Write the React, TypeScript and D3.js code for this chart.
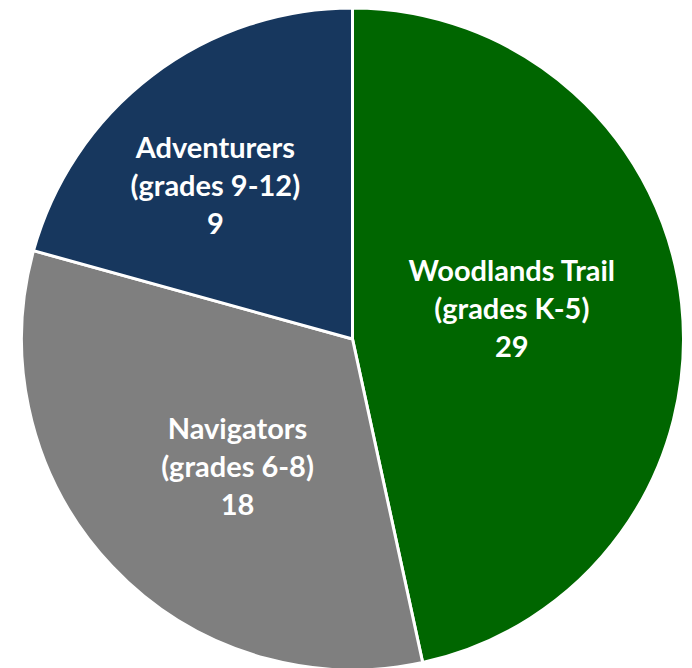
import React, { useEffect } from "react";
import * as d3 from "d3";

const categories = ["Woodlands Trail", "Navigators", "Adventurers"];
const gradeLabels = ["(grades K-5)", "(grades 6-8)", "(grades 9-12)"];
const countLabels = [29, 18, 9];
// slice shares as drawn in the picture (percent of the circle)
const sliceShares = [46.6, 32.7, 20.7];
const colors = ["#006600", "#7F7F7F", "#17375E"];
const labelRadiusFactor = [0.49, 0.52, 0.62];
const labelAngleShiftDeg = -4.7;

const W = 692;
const H = 668;
const R = 331;
const CX = 352.5;
const CY = 339;

export default function App() {
  useEffect(() => {
    document.body.style.margin = "0";
  }, []);

  const pie = d3
    .pie<number>()
    .sort(null)
    .value((d) => d)
    .startAngle(0)
    .endAngle(2 * Math.PI);
  const arcs = pie(sliceShares);
  const arcGen = d3.arc<d3.PieArcDatum<number>>().innerRadius(0).outerRadius(R);

  const lineH = 38;
  const shift = (labelAngleShiftDeg * Math.PI) / 180;

  return (
    <svg width={W} height={H} style={{ display: "block", background: "#fff" }}>
      <g transform={`translate(${CX},${CY})`}>
        {arcs.map((a, i) => (
          <path
            key={i}
            d={arcGen(a) || ""}
            fill={colors[i]}
            stroke="#fff"
            strokeWidth={3}
            strokeLinejoin="round"
          />
        ))}
        {arcs.map((a, i) => {
          const lr = R * labelRadiusFactor[i];
          const mid = (a.startAngle + a.endAngle) / 2 + shift;
          const c = d3
            .arc<any>()
            .innerRadius(lr)
            .outerRadius(lr)
            .centroid({ startAngle: mid, endAngle: mid } as any);
          const lines = [categories[i], gradeLabels[i], String(countLabels[i])];
          return (
            <text
              key={"t" + i}
              textAnchor="middle"
              fill="#fff"
              fontFamily="Lato, 'Open Sans', sans-serif"
              fontWeight="bold"
              fontSize={29}
            >
              {lines.map((l, j) => (
                <tspan key={j} x={c[0]} y={c[1] + (j - 1) * lineH + 10}>
                  {l}
                </tspan>
              ))}
            </text>
          );
        })}
      </g>
    </svg>
  );
}
